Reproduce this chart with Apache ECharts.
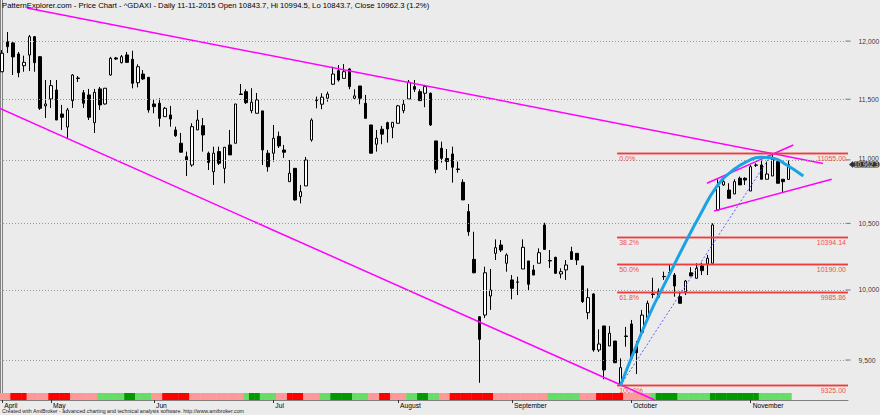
<!DOCTYPE html>
<html><head><meta charset="utf-8">
<script src="https://cdn.jsdelivr.net/npm/echarts@6/dist/echarts.min.js"></script>
<style>html,body{margin:0;padding:0;background:#EBEBEB}#c{width:880px;height:415px}</style>
</head><body><div id="c"></div>
<script>
const dates = [
'2015-04-20','2015-04-21','2015-04-22','2015-04-23','2015-04-24','2015-04-27','2015-04-28','2015-04-29','2015-04-30',
'2015-05-04','2015-05-05','2015-05-06','2015-05-07','2015-05-08','2015-05-11','2015-05-12','2015-05-13','2015-05-14','2015-05-15',
'2015-05-18','2015-05-19','2015-05-20','2015-05-21','2015-05-22','2015-05-26','2015-05-27','2015-05-28','2015-05-29',
'2015-06-01','2015-06-02','2015-06-03','2015-06-04','2015-06-05','2015-06-08','2015-06-09','2015-06-10','2015-06-11','2015-06-12',
'2015-06-15','2015-06-16','2015-06-17','2015-06-18','2015-06-19','2015-06-22','2015-06-23','2015-06-24','2015-06-25','2015-06-26',
'2015-06-29','2015-06-30',
'2015-07-01','2015-07-02','2015-07-03','2015-07-06','2015-07-07','2015-07-08','2015-07-09','2015-07-10','2015-07-13','2015-07-14',
'2015-07-15','2015-07-16','2015-07-17','2015-07-20','2015-07-21','2015-07-22','2015-07-23','2015-07-24','2015-07-27','2015-07-28',
'2015-07-29','2015-07-30','2015-07-31',
'2015-08-03','2015-08-04','2015-08-05','2015-08-06','2015-08-07','2015-08-10','2015-08-11','2015-08-12','2015-08-13','2015-08-14',
'2015-08-17','2015-08-18','2015-08-19','2015-08-20','2015-08-21','2015-08-24','2015-08-25','2015-08-26','2015-08-27','2015-08-28',
'2015-08-31',
'2015-09-01','2015-09-02','2015-09-03','2015-09-04','2015-09-07','2015-09-08','2015-09-09','2015-09-10','2015-09-11','2015-09-14',
'2015-09-15','2015-09-16','2015-09-17','2015-09-18','2015-09-21','2015-09-22','2015-09-23','2015-09-24','2015-09-25','2015-09-28',
'2015-09-29','2015-09-30',
'2015-10-01','2015-10-02','2015-10-05','2015-10-06','2015-10-07','2015-10-08','2015-10-09','2015-10-12','2015-10-13','2015-10-14',
'2015-10-15','2015-10-16','2015-10-19','2015-10-20','2015-10-21','2015-10-22','2015-10-23','2015-10-26','2015-10-27','2015-10-28',
'2015-10-29','2015-10-30',
'2015-11-02','2015-11-03','2015-11-04','2015-11-05','2015-11-06','2015-11-09','2015-11-10','2015-11-11'];

const open = [
11734,11995,11984,11888,11786,11879,12039,11864,11444,11502,11578,11376,11268,11488,11676,11555,11536,11304,11587,11460,
11706,11853,11812,11879,11841,11640,11714,11686,11460,11466,11354,11368,11244,11135,11026,10959,11244,11279,11054,10905,
11067,10932,11121,11135,11544,11564,11404,11382,11402,11054,11054,11191,11080,10826,10932,10708,10792,11162,11488,11458,
11508,11627,11743,11677,11758,11508,11612,11466,11285,11127,11250,11304,11266,11299,11404,11502,11607,11564,11550,11550,
11154,11094,11011,11048,10927,10821,10591,10227,9806,9818,9956,10272,10335,10198,10074,10057,10155,10215,10148,10198,
10488,10218,10242,10118,10148,10285,10272,10178,9835,9971,9570,9740,9598,9633,9333,9669,9754,9600,9695,9801,
9971,9947,10098,10127,10110,9951,9988,10127,10086,10178,10192,10198,10604,10800,10760,10729,10853,10853,10752,10959,
10959,10845,10871,10986,10845,10843.7];
const high = [
11922,12080,11992,11905,11873,12054,12045,11870,11663,11663,11663,11452,11427,11714,11697,11578,11587,11587,11604,11595,
11862,11862,11879,11905,11916,11798,11749,11689,11502,11508,11435,11444,11271,11219,11067,11299,11410,11343,11067,11107,
11107,11105,11244,11460,11629,11584,11593,11553,11402,11080,11285,11230,11121,10999,10935,10800,11024,11340,11522,11550,
11564,11777,11792,11800,11764,11584,11612,11536,11285,11244,11277,11312,11307,11452,11494,11663,11663,11584,11621,11557,
11154,11148,11088,11107,10986,10845,10650,10436,9811,10172,10155,10378,10373,10272,10110,10098,10378,10215,10185,10310,
10505,10297,10247,10160,10222,10322,10272,10178,10012,9976,9716,9740,9740,9633,9512,9733,9783,9633,9855,9922,
10090,10012,10135,10185,10125,9988,10074,10168,10198,10202,10260,10501,10845,10845,10813,10845,10866,10861,10959,10973,
10994,10986,11055,10999,10845,10994.5];
const low = [
11730,11896,11706,11686,11734,11740,11734,11410,11343,11427,11326,11244,11178,11427,11646,11427,11326,11219,11410,11455,
11700,11835,11806,11809,11592,11600,11663,11387,11382,11271,11351,11271,11187,11062,10871,10945,11244,11067,10919,10800,
10959,10813,11040,11135,11536,11460,11382,11382,10959,10905,10986,11096,11016,10826,10677,10655,10792,11148,11424,11416,
11480,11621,11649,11677,11584,11494,11458,11340,11054,11067,11127,11140,11176,11299,11382,11500,11561,11486,11433,11277,
10893,10978,10919,10818,10897,10682,10405,10123,9343,9797,9855,10222,10282,10135,9932,9963,10155,10000,10110,10198,
10302,10163,10118,10086,10074,10222,10185,9906,9788,9558,9556,9367,9598,9479,9325,9593,9512,9403,9676,9797,
9940,9942,10074,10098,9951,9903,9963,10103,10086,10110,10110,10198,10604,10792,10695,10729,10800,10800,10752,10943,
10845,10845,10871,10813,10739,10843.7];
const close = [
11894,11951,11862,11726,11815,12039,11812,11424,11460,11615,11326,11349,11410,11706,11680,11466,11349,11558,11452,11593,
11850,11844,11864,11815,11635,11777,11672,11410,11438,11340,11424,11334,11197,11062,10999,11271,11326,11203,10980,11054,
10973,11102,11040,11460,11540,11471,11475,11494,11080,10945,11176,11113,11062,10893,10682,10747,10999,11326,11494,11517,
11544,11714,11663,11734,11607,11528,11508,11340,11054,11176,11209,11252,11307,11444,11458,11644,11584,11488,11607,11285,
10925,11013,10987,10941,10923,10682,10436,10127,9645,10127,10000,10315,10297,10260,10012,10059,10318,10042,10110,10277,
10302,10215,10123,10135,10185,10227,10222,9915,9944,9570,9612,9431,9688,9481,9447,9665,9512,9551,9818,9903,
9967,9988,10100,10129,10029,9903,10066,10103,10160,10143,10235,10488,10787,10826,10695,10826,10800,10839,10945,10957,
10845,10887,11005,10813,10826,10962.3];

// daily ribbon state: P = weak down, R = down, G = up, D = strong up
const ribbon = ('PPRRRPPPPRRRRPPPPPGGGGGDDGGGPPRRRRRPPPPPPPPPPGDDGGGPPRRRPPPGGDDDDGGGPPRRPPPGGDDGGPP' +
                'RRRRRRRRPPPPPPPPPPGGGGGGPPPRRRRRPPPPPGDDDDGGGGGGDDDDDDDDDGGGGGG').split('');
const ribbonColors = {P: '#FF9999', R: '#FF0000', G: '#66DD66', D: '#009900'};

const monthStarts = [0, 9, 28, 50, 73, 94, 116, 138];
const monthNames = ['April', 'May', 'Jun', 'Jul', 'August', 'September', 'October', 'November'];
const priceTicks = [9500, 10000, 10500, 11000, 11500, 12000];
const priceTickLabels = ['9,500', '10,000', '10,500', '11,000', '11,500', '12,000'];

const fibLevels = [11055, 10394.14, 10190, 9985.86, 9325];
const fibPct = ['0.0%', '38.2%', '50.0%', '61.8%', '100.0%'];
const fibValueLabels = ['11055.00', '10394.14', '10190.00', '9985.86', '9325.00'];
const fibStart = 113.4;

const upperTrend = [[4.58, 12295], [151.34, 10971]];
const lowerTrend = [[-0.4, 11422], [120.3, 9226]];
const flagUpper = [[129.95, 10813], [145.87, 11121]];
const flagLower = [[131.25, 10596], [152.94, 10845]];
const arc = [[114, 9325], [116.37, 9547], [119.44, 9831], [122.52, 10074], [125.58, 10322], [128.67, 10565],
             [131.74, 10786], [134.8, 10919], [137.88, 10999], [139.73, 11021], [142.18, 11013], [144.65, 10959], [147.71, 10871]];
const swing = [[114, 9325], [142, 11055]];
const lastClose = 10962.3;
const lastCloseLabel = '10,962.3';

const titleText = 'PatternExplorer.com - Price Chart - ^GDAXI - Daily 11-11-2015 Open 10843.7, Hi 10994.5, Lo 10843.7, Close 10962.3 (1.2%)';
const creditText = 'Created with AmiBroker - advanced charting and technical analysis software. http://www.amibroker.com';

const xMin = -0.4, xMax = 155.95;
const yMin = 9225.7, yMax = 12367;
const FONT = 'Liberation Sans';

const candleData = dates.map((d, i) => [i, open[i], close[i], low[i], high[i]]);

const fibLines = [];
fibLevels.forEach((lv, k) => {
  fibLines.push([{coord: [fibStart, lv], label: {formatter: fibPct[k], position: 'insideStartBottom'}}, {coord: [xMax, lv]}]);
  fibLines.push([{coord: [fibStart, lv], label: {formatter: fibValueLabels[k], position: 'insideEndBottom'}}, {coord: [xMax, lv]}]);
});

const chart = echarts.init(document.getElementById('c'), null, {renderer: 'svg'});
chart.setOption({
  animation: false,
  backgroundColor: '#EBEBEB',
  textStyle: {fontFamily: FONT},
  title: [
    {text: titleText, left: 2, top: 1, padding: 0, textStyle: {fontSize: 7.7, fontWeight: 'normal', color: '#000', fontFamily: FONT}},
    {text: creditText, left: 2, top: 408, padding: 0, textStyle: {fontSize: 5.3, fontWeight: 'normal', color: '#222', fontFamily: FONT}}
  ],
  grid: [
    {left: 0, right: 32, top: 0, height: 400, outerBoundsMode: 'none', containLabel: false, show: false},
    {left: 0, right: 32, top: 393, height: 7, outerBoundsMode: 'none', containLabel: false, show: false}
  ],
  xAxis: [
    {type: 'value', gridIndex: 0, min: xMin, max: xMax, position: 'bottom',
     axisLine: {show: true, onZero: false, lineStyle: {color: '#808080', width: 1}},
     axisTick: {show: true, customValues: monthStarts, length: 3, lineStyle: {color: '#333'}},
     axisLabel: {show: true, customValues: monthStarts, formatter: v => monthNames[monthStarts.indexOf(v)],
                 align: 'left', margin: 2, fontSize: 6.7, color: '#000', fontFamily: FONT, padding: [0, 0, 0, 2]},
     splitLine: {show: false}},
    {type: 'value', gridIndex: 1, min: xMin, max: xMax, show: false}
  ],
  yAxis: [
    {type: 'log', logBase: 10, gridIndex: 0, min: yMin, max: yMax, position: 'right',
     axisLine: {show: true, lineStyle: {color: '#808080'}}, axisTick: {show: false}, axisLabel: {show: false}, splitLine: {show: false}},
    {type: 'value', gridIndex: 0, min: 0, max: 1, position: 'left',
     axisLine: {show: true, lineStyle: {color: '#808080'}}, axisTick: {show: false}, axisLabel: {show: false}, splitLine: {show: false}},
    {type: 'value', gridIndex: 1, min: 0, max: 1, show: false}
  ],
  series: [
    {type: 'custom', name: 'ribbon', xAxisIndex: 1, yAxisIndex: 2, z: 1,
     data: ribbon.map((c, i) => [i]),
     renderItem: (params, api) => {
       const i = api.value(0);
       const p0 = api.coord([i - 0.5, 1]);
       const p1 = api.coord([i + 0.5, 0]);
       return {type: 'rect', shape: {x: p0[0], y: p0[1], width: p1[0] - p0[0] + 0.4, height: p1[1] - p0[1]},
               style: {fill: ribbonColors[ribbon[params.dataIndex]]}};
     }},
    {type: 'scatter', name: 'priceAxis', xAxisIndex: 0, yAxisIndex: 0, clip: false, z: 1, silent: true,
     data: priceTicks.map(v => ({value: [xMax, v], label: v === 11000 ? {offset: [0, -1]} : {}})),
     symbol: 'rect', symbolSize: [5, 1], itemStyle: {color: '#555'},
     label: {show: true, position: 'right', distance: 8, fontSize: 6.8, lineHeight: 6, color: '#000', fontFamily: FONT,
             formatter: p => priceTickLabels[p.dataIndex]},
     markLine: {silent: true, symbol: 'none', animation: false, label: {show: false},
                lineStyle: {type: [1, 2], color: '#999', width: 1},
                data: priceTicks.map(v => ({yAxis: v}))}},
    {type: 'candlestick', name: 'GDAXI', xAxisIndex: 0, yAxisIndex: 0, z: 3,
     data: candleData, encode: {x: 0, y: [1, 2, 3, 4]}, barWidth: 3,
     itemStyle: {color: '#FFFFFF', color0: '#000000', borderColor: '#000', borderColor0: '#000', borderColorDoji: '#000', borderWidth: 1}},
    {type: 'line', name: 'upperTrend', data: upperTrend, symbol: 'none', clip: false, z: 4,
     lineStyle: {color: '#FF00FF', width: 1.5}},
    {type: 'line', name: 'lowerTrend', data: lowerTrend, symbol: 'none', clip: false, z: 4,
     lineStyle: {color: '#FF00FF', width: 1.5}},
    {type: 'line', name: 'flagUpper', data: flagUpper, symbol: 'none', clip: false, z: 4,
     lineStyle: {color: '#FF00FF', width: 1.5}},
    {type: 'line', name: 'flagLower', data: flagLower, symbol: 'none', clip: false, z: 4,
     lineStyle: {color: '#FF00FF', width: 1.5}},
    {type: 'line', name: 'swing', data: swing, symbol: 'none', clip: false, z: 4,
     lineStyle: {color: '#5C5CFF', width: 1, type: [2, 2]},
     markLine: {silent: true, symbol: 'none', animation: false,
                lineStyle: {color: '#F03C3C', width: 1.3, type: 'solid'},
                label: {show: true, fontSize: 7, color: '#F05050', fontFamily: FONT, distance: 2},
                data: fibLines}},
    {type: 'line', name: 'arc', data: arc, symbol: 'none', smooth: true, clip: false, z: 5,
     lineStyle: {color: '#1BA3E6', width: 3}},
    {type: 'scatter', name: 'last', xAxisIndex: 0, yAxisIndex: 0, clip: false, z: 6, silent: true,
     data: [[xMax, lastClose]],
     symbol: 'triangle', symbolRotate: 90, symbolSize: [7, 4], symbolOffset: [3, 0], itemStyle: {color: '#000'},
     label: {show: true, position: 'right', distance: 0, formatter: lastCloseLabel, backgroundColor: '#000',
             color: '#fff', fontSize: 6.3, lineHeight: 6, fontFamily: FONT, padding: [0, 1, 0, 1], borderRadius: 2}}
  ]
});
</script></body></html>
